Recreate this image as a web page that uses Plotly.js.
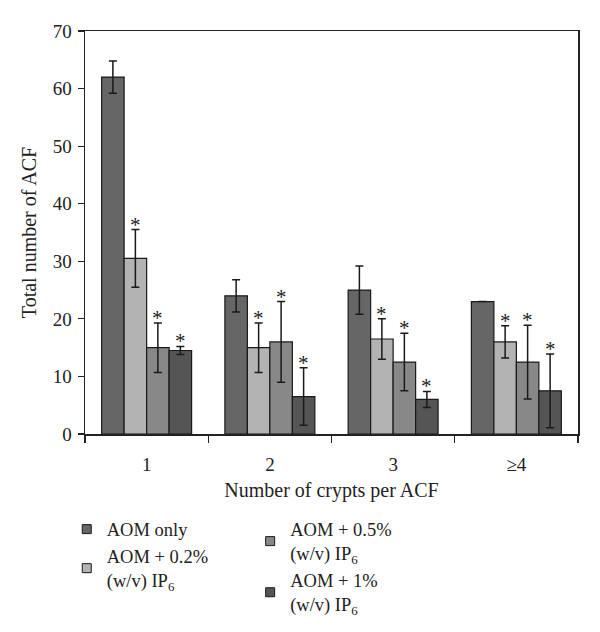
<!DOCTYPE html>
<html>
<head>
<meta charset="utf-8">
<script src="https://cdn.plot.ly/plotly-3.0.1.min.js"></script>
<style>html,body{margin:0;padding:0;background:#fff;}#chart{width:600px;height:632px;}</style>
</head>
<body>
<div id="chart"></div>
<script>
var categories = ['1', '2', '3', '≥4'];
var seriesNames = ['AOM only', 'AOM + 0.2%<br>(w/v) IP<sub>6</sub>', 'AOM + 0.5%<br>(w/v) IP<sub>6</sub>', 'AOM + 1%<br>(w/v) IP<sub>6</sub>'];
var aomOnly = [62, 24, 25, 23];
var aomOnlyErr = [2.8, 2.8, 4.2, 0];
var ip02 = [30.5, 15, 16.5, 16];
var ip02Err = [5, 4.3, 3.5, 2.8];
var ip05 = [15, 16, 12.5, 12.5];
var ip05Err = [4.3, 7, 5, 6.4];
var ip1 = [14.5, 6.5, 6, 7.5];
var ip1Err = [0.7, 5, 1.4, 6.4];
var significant = [
  [false, false, false, false],
  [true, true, true, true],
  [true, true, true, true],
  [true, true, true, true]
];
var colors = ['#666666', '#b3b3b3', '#888888', '#555555'];
var values = [aomOnly, ip02, ip05, ip1];
var errors = [aomOnlyErr, ip02Err, ip05Err, ip1Err];
var legendIds = ['legend', 'legend', 'legend2', 'legend2'];
var bargap = 0.27;
var fam = 'Liberation Serif, DejaVu Serif, serif';

var traces = values.map(function (v, i) {
  return {
    type: 'bar',
    name: seriesNames[i],
    x: categories,
    y: v,
    showlegend: false,
    marker: {color: colors[i], line: {color: '#1a1a1a', width: 1.2}},
    error_y: {type: 'data', array: errors[i], visible: true, color: '#1a1a1a', thickness: 1.5, width: 4}
  };
});
// legend-only entries (small square swatches like the reference)
values.forEach(function (v, i) {
  traces.push({
    type: 'scatter', mode: 'markers',
    name: seriesNames[i],
    x: [categories[0]], y: [null],
    legend: legendIds[i],
    hoverinfo: 'skip',
    marker: {symbol: 'square', size: 9, color: colors[i], line: {color: '#1a1a1a', width: 1}}
  });
});

var annotations = [];
var w = (1 - bargap) / values.length;
values.forEach(function (v, i) {
  v.forEach(function (val, c) {
    if (significant[i][c]) {
      annotations.push({
        x: c + (i - (values.length - 1) / 2) * w,
        y: val + errors[i][c],
        xref: 'x', yref: 'y',
        text: '*', showarrow: false,
        yanchor: 'bottom', yshift: -9,
        font: {family: fam, size: 21, color: '#222'}
      });
    }
  });
});

var layout = {
  width: 600, height: 632,
  margin: {l: 84.5, r: 21.5, t: 31, b: 198, autoexpand: false},
  paper_bgcolor: '#fff', plot_bgcolor: '#fff',
  font: {family: fam, size: 19, color: '#222'},
  barmode: 'group',
  bargap: bargap,
  bargroupgap: 0,
  showlegend: true,
  xaxis: {
    type: 'category',
    tickson: 'boundaries',
    ticks: 'outside', ticklen: 7, tickwidth: 1.2, tickcolor: '#222',
    showline: true, linecolor: '#222', linewidth: 1.5, mirror: true,
    showgrid: false, zeroline: false,
    ticklabelstandoff: 13,
    tickfont: {family: fam, size: 19, color: '#222'},
    title: {text: 'Number of crypts per ACF', font: {family: fam, size: 20, color: '#222'}, standoff: 8}
  },
  yaxis: {
    range: [0, 70], dtick: 10,
    ticks: 'outside', ticklen: 6, tickwidth: 1.2, tickcolor: '#222',
    showline: true, linecolor: '#222', linewidth: 1.5, mirror: true,
    showgrid: false, zeroline: false,
    ticklabelstandoff: 2,
    tickfont: {family: fam, size: 19, color: '#222'},
    title: {text: 'Total number of ACF', font: {family: fam, size: 20, color: '#222'}, standoff: 10}
  },
  legend: {
    x: -0.037, xanchor: 'left', y: -0.19, yanchor: 'top',
    orientation: 'v', font: {family: fam, size: 18.5, color: '#222'},
    bgcolor: 'rgba(0,0,0,0)', tracegroupgap: 0
  },
  legend2: {
    x: 0.335, xanchor: 'left', y: -0.19, yanchor: 'top',
    orientation: 'v', font: {family: fam, size: 18.5, color: '#222'},
    bgcolor: 'rgba(0,0,0,0)', tracegroupgap: 0
  },
  annotations: annotations
};

Plotly.newPlot('chart', traces, layout, {displayModeBar: false, staticPlot: true});
</script>
</body>
</html>
